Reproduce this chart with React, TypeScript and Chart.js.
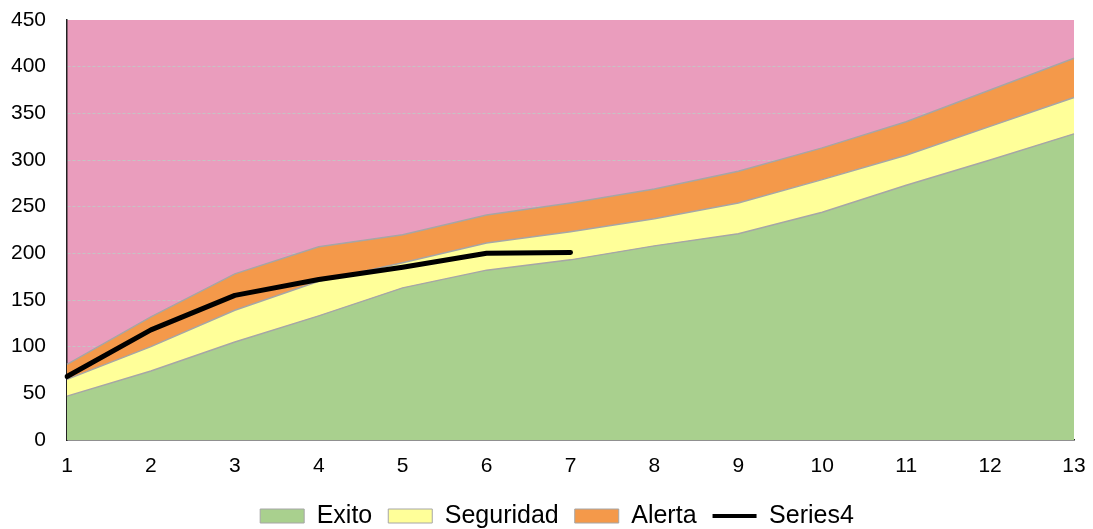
import React, { useEffect, useRef } from "react";
import { Chart, registerables } from "chart.js";

Chart.register(...registerables);

// x categories
const categories = ["1", "2", "3", "4", "5", "6", "7", "8", "9", "10", "11", "12", "13"];
// upper edge of each band (cumulative values)
const exito = [47, 74, 105, 133, 163, 182, 193, 208, 221, 244, 273, 300, 328];
const seguridad = [65, 100, 139, 170, 190, 211, 223, 237, 254, 279, 305, 336, 367];
const alerta = [81, 132, 178, 207, 220, 241, 254, 269, 288, 313, 341, 375, 409];
const series4 = [68, 118, 155, 172, 185, 200, 201, null, null, null, null, null, null];
// y axis
const yMin = 0;
const yMax = 450;
const yStep = 50;

const FONT = "'Liberation Sans', Arial, sans-serif";
const PINK = "#EA9DBD";
const GREEN = "#A9D08E";
const YELLOW = "#FFFF99";
const ORANGE = "#F4994A";
const EDGE = "#A6A6A6";

const plotBg = {
  id: "plotBg",
  beforeDraw(chart: any) {
    const { ctx, chartArea } = chart;
    if (!chartArea) return;
    ctx.save();
    ctx.fillStyle = PINK;
    ctx.fillRect(chartArea.left, chartArea.top, chartArea.right - chartArea.left, chartArea.bottom - chartArea.top);
    ctx.restore();
  },
};

export default function App() {
  const ref = useRef<HTMLCanvasElement | null>(null);

  useEffect(() => {
    document.body.style.margin = "0";
    const canvas = ref.current;
    if (!canvas) return;
    const chart = new Chart(canvas, {
      type: "line",
      data: {
        labels: categories,
        datasets: [
          {
            label: "Exito",
            data: exito,
            backgroundColor: GREEN,
            borderColor: EDGE,
            borderWidth: 1.5,
            fill: "origin",
            pointRadius: 0,
            tension: 0,
          },
          {
            label: "Seguridad",
            data: seguridad,
            backgroundColor: YELLOW,
            borderColor: EDGE,
            borderWidth: 1.5,
            fill: 0,
            pointRadius: 0,
            tension: 0,
          },
          {
            label: "Alerta",
            data: alerta,
            backgroundColor: ORANGE,
            borderColor: EDGE,
            borderWidth: 1.5,
            fill: 1,
            pointRadius: 0,
            tension: 0,
          },
          {
            label: "Series4",
            data: series4,
            borderColor: "#000000",
            backgroundColor: "#000000",
            borderWidth: 5,
            borderCapStyle: "round",
            borderJoinStyle: "round",
            fill: false,
            pointRadius: 0,
            tension: 0,
            spanGaps: false,
            order: -1,
          },
        ] as any,
      },
      options: {
        responsive: false,
        animation: false,
        devicePixelRatio: 1,
        layout: { padding: { left: 10, right: -11, top: 20, bottom: -9.5 } },
        plugins: {
          tooltip: { enabled: false },
          legend: {
            position: "bottom",
            labels: {
              usePointStyle: true,
              pointStyleWidth: 44,
              boxHeight: 14,
              padding: 16,
              color: "#000",
              font: { family: FONT, size: 25 },
              generateLabels: () => [
                { text: "Exito", fillStyle: GREEN, strokeStyle: EDGE, lineWidth: 1, pointStyle: "rect", hidden: false, datasetIndex: 0, fontColor: "#000" },
                { text: "Seguridad", fillStyle: YELLOW, strokeStyle: EDGE, lineWidth: 1, pointStyle: "rect", hidden: false, datasetIndex: 1, fontColor: "#000" },
                { text: "Alerta", fillStyle: ORANGE, strokeStyle: EDGE, lineWidth: 1, pointStyle: "rect", hidden: false, datasetIndex: 2, fontColor: "#000" },
                { text: "Series4", fillStyle: "#000", strokeStyle: "#000", lineWidth: 4, pointStyle: "line", hidden: false, datasetIndex: 3, fontColor: "#000" },
              ] as any,
            },
          },
        },
        scales: {
          x: {
            type: "category",
            offset: false,
            grid: { display: false, drawTicks: false },
            border: { display: true, color: "#222", width: 1.5 },
            ticks: { color: "#000", padding: 14, font: { family: FONT, size: 21 }, maxRotation: 0, autoSkip: false },
            afterFit: (scale: any) => {
              scale.height = 47.5;
              scale.paddingLeft = 0;
              scale.paddingRight = 0;
            },
          },
          y: {
            position: "left",
            min: yMin,
            max: yMax,
            grid: {
              drawTicks: false,
              color: (c: any) => (c.tick && (c.tick.value === yMax || c.tick.value === yMin) ? "rgba(0,0,0,0)" : "#C4C4C4"),
              lineWidth: 1,
            },
            border: { display: true, color: "#222", width: 1.5, dash: [3, 2] },
            ticks: { stepSize: yStep, color: "#000", padding: 21, font: { family: FONT, size: 21 } },
            afterFit: (scale: any) => {
              scale.width = 57;
              scale.paddingTop = 0;
              scale.paddingBottom = 0;
            },
          },
          spacer: {
            type: "linear",
            position: "right",
            display: true,
            grid: { display: false, drawTicks: false },
            border: { display: false },
            ticks: { display: false },
            afterFit: (scale: any) => {
              scale.width = 30;
              scale.paddingTop = 0;
              scale.paddingBottom = 0;
            },
          },
        },
      } as any,
      plugins: [plotBg],
    });
    return () => chart.destroy();
  }, []);

  return (
    <div style={{ width: 1093, height: 529, position: "relative" }}>
      <canvas ref={ref} width={1093} height={529} />
    </div>
  );
}
